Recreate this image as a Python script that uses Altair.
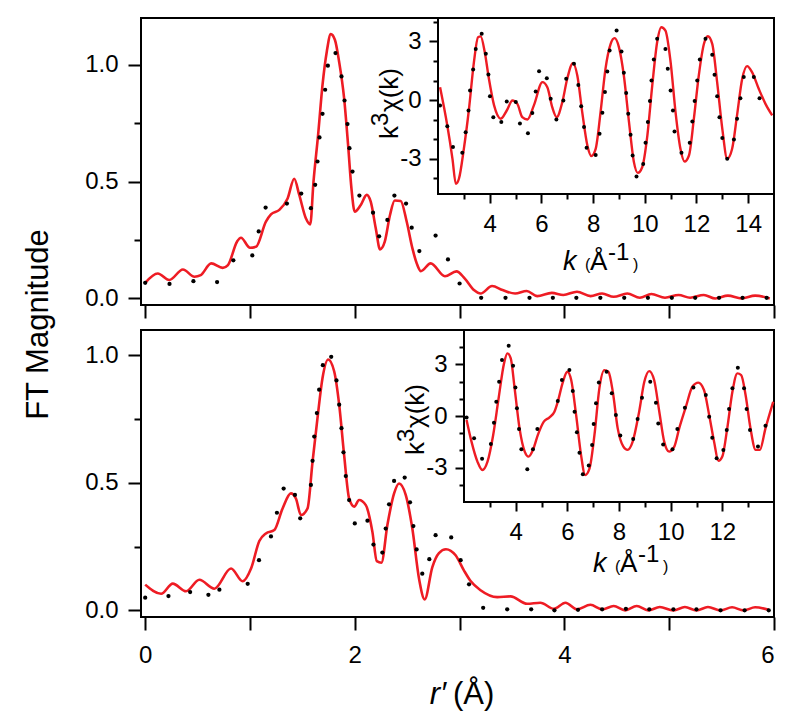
import altair as alt
import pandas as pd

FONT = "Liberation Sans, Arial, sans-serif"
RED = "#ee1c24"

# ---------------- top main panel (FT magnitude) ----------------
top_r = [0.0, 0.12, 0.23, 0.36, 0.47, 0.53, 0.63, 0.74, 0.79, 0.876, 0.914, 1.0, 1.057, 1.152, 1.2, 1.28,
         1.359, 1.422, 1.47, 1.533, 1.575, 1.606, 1.65, 1.692, 1.733, 1.771, 1.81, 1.85, 1.898, 1.936,
         1.968, 2.0, 2.057, 2.114, 2.152, 2.2, 2.241, 2.286, 2.336, 2.381, 2.438, 2.495, 2.55, 2.597,
         2.63, 2.724, 2.86, 2.97, 3.05, 3.14, 3.2, 3.31, 3.41, 3.53, 3.64, 3.74, 3.88, 3.99, 4.12, 4.25,
         4.36, 4.47, 4.6, 4.72, 4.83, 4.96, 5.09, 5.2, 5.33, 5.44, 5.56, 5.69, 5.82, 5.96]
top_ft = [0.067, 0.107, 0.079, 0.124, 0.093, 0.10, 0.15, 0.131, 0.143, 0.243, 0.26, 0.217, 0.221, 0.329, 0.36, 0.379,
          0.428, 0.512, 0.443, 0.343, 0.317, 0.5, 0.70, 0.914, 1.057, 1.131, 1.107, 1.014, 0.857, 0.657,
          0.471, 0.371, 0.40, 0.443, 0.414, 0.30, 0.21, 0.243, 0.357, 0.419, 0.417, 0.329, 0.214, 0.143,
          0.117, 0.15, 0.095, 0.116, 0.085, 0.035, 0.021, 0.053, 0.036, 0.021, 0.032, 0.010, 0.024, 0.015, 0.029, 0.010,
          0.021, 0.007, 0.021, 0.003, 0.019, 0.003, 0.015, 0.003, 0.015, 0.0, 0.012, 0.0, 0.012, 0.0]
top_dot_r = [0.0, 0.232, 0.46, 0.686, 0.841, 1.022, 1.083, 1.149, 1.352, 1.489, 1.581, 1.622, 1.644, 1.663,
             1.692, 1.717, 1.743, 1.816, 1.873, 1.902, 1.930, 1.949, 1.978, 2.044, 2.174, 2.232, 2.311,
             2.378, 2.489, 2.543, 2.616, 2.771, 2.889, 3.0, 3.206, 3.438, 3.667, 3.89, 4.114, 4.343,
             4.571, 4.797, 5.025, 5.248, 5.476, 5.70, 5.93]
top_dot_ft = [0.067, 0.062, 0.074, 0.070, 0.163, 0.184, 0.287, 0.389, 0.406, 0.449, 0.386, 0.486, 0.586, 0.689,
              0.790, 0.893, 0.996, 1.05, 0.95, 0.847, 0.746, 0.643, 0.543, 0.44, 0.367, 0.266, 0.336,
              0.44, 0.406, 0.303, 0.203, 0.269, 0.167, 0.064, 0.003, 0.003, 0.003, 0.003, 0.003, 0.003,
              0.003, 0.003, 0.003, 0.003, 0.003, 0.003, 0.003]

# ---------------- bottom main panel ----------------
bot_r = [0.0, 0.152, 0.263, 0.39, 0.517, 0.66, 0.819, 0.93, 1.01, 1.089, 1.152, 1.232, 1.311, 1.39, 1.438,
         1.486, 1.549, 1.597, 1.644, 1.692, 1.746, 1.803, 1.851, 1.898, 1.946, 1.994, 2.041, 2.105, 2.168,
         2.21, 2.254, 2.311, 2.375, 2.422, 2.486, 2.549, 2.613, 2.667, 2.74, 2.803, 2.87, 2.962, 3.041,
         3.105, 3.2, 3.359, 3.486, 3.645, 3.77, 3.9, 4.01, 4.12, 4.248, 4.36, 4.47, 4.58, 4.69, 4.8, 4.91,
         5.04, 5.15, 5.26, 5.37, 5.49, 5.6, 5.71, 5.82, 5.95]
bot_ft = [0.101, 0.065, 0.105, 0.075, 0.12, 0.085, 0.164, 0.114, 0.164, 0.272, 0.302, 0.315, 0.40, 0.459, 0.439,
          0.374, 0.40, 0.584, 0.754, 0.912, 0.984, 0.938, 0.807, 0.61, 0.439, 0.407, 0.433, 0.413, 0.308,
          0.193, 0.187, 0.335, 0.459, 0.498, 0.453, 0.321, 0.124, 0.043, 0.17, 0.225, 0.24, 0.216, 0.157,
          0.115, 0.079, 0.052, 0.055, 0.026, 0.030, 0.006, 0.030, 0.004, 0.022, 0.004, 0.017, 0.0, 0.017, 0.0, 0.013,
          0.0, 0.013, 0.0, 0.013, 0.0, 0.012, 0.0, 0.012, 0.002]
bot_dot_r = [0.0, 0.222, 0.429, 0.603, 0.708, 0.978, 1.086, 1.2, 1.257, 1.321, 1.429, 1.479, 1.581, 1.597,
             1.613, 1.638, 1.66, 1.695, 1.775, 1.825, 1.851, 1.873, 1.892, 1.914, 1.946, 2.0, 2.121, 2.178,
             2.263, 2.295, 2.327, 2.375, 2.476, 2.527, 2.559, 2.59, 2.644, 2.711, 2.771, 2.92, 3.01, 3.09,
             3.225, 3.454, 3.683, 3.905, 4.13, 4.36, 4.587, 4.81, 5.04, 5.26, 5.49, 5.72, 5.95]
bot_dot_ft = [0.05, 0.056, 0.072, 0.061, 0.081, 0.104, 0.197, 0.29, 0.383, 0.478, 0.453, 0.361, 0.492, 0.587,
              0.682, 0.774, 0.866, 0.962, 0.995, 0.902, 0.807, 0.715, 0.62, 0.527, 0.433, 0.341, 0.352, 0.258,
              0.227, 0.321, 0.416, 0.508, 0.521, 0.424, 0.331, 0.239, 0.144, 0.201, 0.295, 0.286, 0.197, 0.102,
              0.010, 0.004, 0.004, 0.0, 0.002, 0.004, 0.006, 0.004, 0.004, 0.004, 0.0, 0.0, 0.0]

# ---------------- top inset (k^3 chi(k)) ----------------
ti_k = [2.08, 2.36, 2.56, 2.69, 2.81, 3.0, 3.2, 3.39, 3.55, 3.65, 3.81, 3.97, 4.17, 4.43, 4.66, 4.88, 5.07,
        5.26, 5.46, 5.71, 6.04, 6.23, 6.42, 6.59, 6.81, 7.0, 7.22, 7.39, 7.58, 7.78, 7.93, 8.1, 8.29, 8.48,
        8.68, 8.83, 9.0, 9.19, 9.39, 9.58, 9.73, 9.90, 10.1, 10.29, 10.48, 10.64, 10.8, 11.0, 11.19, 11.38,
        11.54, 11.71, 11.9, 12.09, 12.29, 12.44, 12.61, 12.8, 13.0, 13.19, 13.38, 13.57, 13.77, 13.96,
        14.15, 14.41, 14.67, 14.93]
ti_chi = [0.66, -1.30, -3.0, -4.28, -4.02, -2.49, -0.44, 1.94, 3.22, 3.26, 2.45, 1.09, -0.27, -0.95, -0.53,
          -0.02, -0.19, -0.87, -0.99, -0.27, 0.92, 0.66, -0.36, -0.87, -0.10, 1.09, 1.89, 1.26, -0.61, -2.32,
          -2.86, -2.49, -0.61, 1.60, 2.88, 3.17, 2.71, 1.26, -1.12, -3.17, -3.72, -3.43, -1.81, 0.75, 2.97,
          3.73, 3.56, 1.94, -0.61, -2.49, -3.14, -2.83, -0.95, 1.26, 2.88, 3.27, 2.88, 0.92, -1.47, -3.0,
          -2.49, -0.78, 1.09, 1.74, 1.43, 0.58, -0.19, -0.78]
ti_dot_k = [2.08, 2.36, 2.58, 2.94, 3.07, 3.18, 3.24, 3.36, 3.46, 3.69, 3.85, 3.95, 4.01, 4.14, 4.45, 4.66,
            5.01, 5.17, 5.48, 5.65, 5.78, 5.91, 6.21, 6.36, 6.58, 6.85, 6.96, 7.26, 7.43, 7.54, 7.65, 7.75,
            8.10, 8.25, 8.36, 8.46, 8.55, 8.64, 8.91, 9.10, 9.19, 9.28, 9.36, 9.45, 9.53, 9.68, 9.94, 10.03,
            10.12, 10.20, 10.26, 10.35, 10.48, 10.80, 10.89, 11.0, 11.09, 11.15, 11.42, 11.74, 11.84, 11.93,
            12.03, 12.13, 12.35, 12.61, 12.70, 12.80, 12.89, 13.0, 13.19, 13.45, 13.57, 13.70, 13.83, 14.22,
            14.44]
ti_dot_chi = [-0.27, -1.33, -2.40, -2.69, -1.64, -0.53, 0.49, 1.57, 2.62, 3.39, 2.37, 1.31, 0.20, -0.87,
              -1.12, -0.07, -0.10, -1.19, -1.69, -0.66, 0.44, 1.48, 1.12, 0.07, -0.99, -0.02, 1.09, 1.86,
              0.78, -0.31, -1.38, -2.44, -2.80, -1.72, -0.65, 0.41, 1.47, 2.54, 3.56, 2.49, 1.40, 0.37,
              -0.70, -1.77, -2.83, -3.90, -3.26, -2.18, -1.12, -0.05, 1.01, 2.08, 3.14, 2.62, 1.60, 0.49,
              -0.53, -1.60, -2.69, -2.18, -1.09, -0.05, 1.01, 2.08, 3.14, 2.32, 1.30, 0.20, -0.87, -1.93,
              -3.0, -2.01, -0.95, 0.10, 1.18, 1.18, 0.10]

# ---------------- bottom inset ----------------
bi_k = [2.10, 2.29, 2.52, 2.71, 2.91, 3.13, 3.34, 3.55, 3.68, 3.81, 3.96, 4.15, 4.35, 4.50, 4.67, 4.86, 5.09,
        5.31, 5.50, 5.63, 5.83, 6.0, 6.15, 6.34, 6.53, 6.69, 6.86, 7.05, 7.24, 7.43, 7.59, 7.76, 7.95, 8.17,
        8.33, 8.53, 8.78, 8.98, 9.17, 9.36, 9.56, 9.75, 9.94, 10.14, 10.33, 10.59, 10.84, 11.07, 11.29,
        11.49, 11.68, 11.85, 12.0, 12.19, 12.39, 12.58, 12.73, 12.90, 13.09, 13.29, 13.45, 13.67, 13.97]
bi_chi = [-0.23, -1.49, -2.65, -3.14, -2.65, -1.10, 1.03, 3.06, 3.64, 3.35, 1.61, -0.72, -2.07, -2.36, -1.97,
          -1.10, -0.33, -0.08, 0.25, 0.83, 1.99, 2.57, 2.09, 0.06, -2.26, -3.43, -3.04, -1.10, 1.61, 2.67,
          2.57, 1.41, -0.72, -1.78, -1.97, -1.49, 0.25, 1.99, 2.61, 2.09, 0.25, -1.49, -2.07, -1.78, -0.72,
          0.54, 1.70, 1.94, 1.51, 0.06, -1.49, -2.61, -2.36, -0.72, 1.41, 2.48, 2.38, 1.22, -0.72, -1.97,
          -1.97, -0.72, 0.83]
bi_dot_k = [2.10, 2.39, 2.70, 3.04, 3.16, 3.25, 3.36, 3.47, 3.73, 3.90, 3.99, 4.05, 4.13, 4.22, 4.45, 4.67,
            4.84, 5.63, 5.79, 6.08, 6.21, 6.28, 6.37, 6.47, 6.60, 6.83, 6.96, 7.02, 7.11, 7.22, 7.52, 7.72,
            7.88, 8.05, 8.55, 8.72, 8.89, 9.21, 9.43, 9.52, 9.71, 10.07, 10.26, 10.55, 10.88, 11.36, 11.49,
            11.61, 11.78, 12.04, 12.17, 12.26, 12.39, 12.60, 12.84, 12.94, 13.07, 13.38, 13.67]
bi_dot_chi = [-0.08, -1.30, -2.48, -1.63, -0.39, 0.83, 1.99, 3.25, 4.08, 2.92, 1.66, 0.45, -0.75, -1.94,
              -3.10, -1.94, -0.75, 0.87, 2.09, 2.67, 1.45, 0.25, -0.95, -2.13, -3.39, -2.88, -1.68, -0.46,
              0.74, 1.95, 2.57, 1.32, 0.06, -1.14, -1.34, -0.17, 1.06, 1.99, 0.77, -0.43, -1.65, -1.94,
              -0.75, 0.48, 1.66, 1.22, -0.04, -1.26, -2.46, -1.97, -0.81, 0.41, 1.61, 2.81, 1.61, 0.41,
              -0.81, -1.78, -0.56]

W, H = 633, 287
ONE = pd.DataFrame({"d": [0]})


def txt(s, x, y, size, style="normal", align="left", angle=0):
    return alt.Chart(ONE).mark_text(
        text=s, font=FONT, fontSize=size, fontStyle=style, align=align,
        baseline="alphabetic", angle=angle, color="black"
    ).encode(x=alt.value(x), y=alt.value(y))


def main_panel(r, ft, dr, dft, ydom, show_labels, ytitle):
    line_df = pd.DataFrame({"r": r, "ft": ft})
    dot_df = pd.DataFrame({"r": dr, "ft": dft})
    xaxis = alt.Axis(values=[0, 1, 2, 3, 4, 5, 6], tickSize=13, labelPadding=13,
                     labels=show_labels, labelExpr="datum.value % 2 == 0 ? datum.label : ''",
                     domain=False)
    yaxis_kw = dict(values=[0, 0.25, 0.5, 0.75, 1.0], format=".1f",
                    labelExpr="datum.value * 4 % 2 == 0 ? datum.label : ''",
                    tickSize={"condition": {"test": "datum.value * 4 % 2 != 0", "value": 7}, "value": 13},
                    labelPadding=10, domain=False)
    if ytitle:
        yaxis = alt.Axis(titleFontSize=31, titleFontWeight="normal", titleFont=FONT,
                         titleX=-103, titleY=306, titleAngle=270, titleAlign="center",
                         titleBaseline="middle", titleColor="black", **yaxis_kw)
        ytit = "FT Magnitude"
    else:
        yaxis = alt.Axis(**yaxis_kw)
        ytit = None
    xs = alt.X("r:Q", scale=alt.Scale(domain=[-0.04, 6.0], nice=False, zero=False), axis=xaxis, title=None)
    ys = alt.Y("ft:Q", scale=alt.Scale(domain=ydom, nice=False, zero=False), axis=yaxis, title=ytit)
    line = alt.Chart(line_df).mark_line(color=RED, strokeWidth=2.6, interpolate="monotone").encode(x=xs, y=ys)
    dots = alt.Chart(dot_df).mark_circle(color="black", size=18, opacity=1).encode(x=xs, y=ys)
    return alt.layer(line, dots)


def inset(k, chi, dk, dchi, kdom, cdom, xrange, yrange, xticks, xoff, yoff, title_parts):
    line_df = pd.DataFrame({"k": k, "chi": chi})
    dot_df = pd.DataFrame({"k": dk, "chi": dchi})
    box_df = pd.DataFrame({"k1": [kdom[0]], "k2": [kdom[1]], "c1": [cdom[0]], "c2": [cdom[1]]})
    xaxis = alt.Axis(orient="bottom", offset=xoff, values=xticks,
                     labelExpr="datum.value % 2 == 0 ? datum.label : ''",
                     tickSize={"condition": {"test": "datum.value % 2 != 0", "value": 5}, "value": 9},
                     labelPadding=9, domain=False)
    yaxis = alt.Axis(orient="left", offset=yoff, values=[-4, -3, -2, -1, 0, 1, 2, 3, 4],
                     labelExpr="datum.value % 3 == 0 ? toString(datum.value) : ''",
                     tickSize={"condition": {"test": "datum.value % 3 != 0", "value": 5}, "value": 9},
                     labelPadding=8, domain=False)
    xsc = alt.Scale(domain=kdom, range=xrange, nice=False, zero=False)
    ysc = alt.Scale(domain=cdom, range=yrange, nice=False, zero=False)
    box = alt.Chart(box_df).mark_rect(fill="white", stroke="black", strokeWidth=2).encode(
        x=alt.X("k1:Q", scale=xsc, axis=xaxis, title=None),
        x2="k2:Q",
        y=alt.Y("c1:Q", scale=ysc, axis=yaxis, title=None),
        y2="c2:Q",
    )
    xs = alt.X("k:Q", scale=xsc, axis=xaxis, title=None)
    ys = alt.Y("chi:Q", scale=ysc, axis=yaxis, title=None)
    line = alt.Chart(line_df).mark_line(color=RED, strokeWidth=2.4, interpolate="monotone").encode(x=xs, y=ys)
    dots = alt.Chart(dot_df).mark_circle(color="black", size=16, opacity=1).encode(x=xs, y=ys)
    return alt.layer(box, line, dots, *title_parts)


def inset_titles(xl, base_y, yx, ystart):
    return [
        txt("k", xl, base_y, 27, style="italic"),
        txt("(", xl + 22, base_y, 16),
        txt("Å", xl + 27, base_y, 26),
        txt("-1", xl + 45, base_y - 10, 24),
        txt(")", xl + 70, base_y, 16),
        txt("k", yx, ystart, 26, angle=270),
        txt("3", yx - 10, ystart - 13, 24, angle=270),
        txt("χ(k)", yx, ystart - 27, 26, angle=270),
    ]


top_inset = inset(ti_k, ti_chi, ti_dot_k, ti_dot_chi, [2, 15], [-4.8, 4.2], [297, 633], [176, 0],
                  list(range(3, 15)), -111, -297, inset_titles(422, 252, 257, 121))
bot_inset = inset(bi_k, bi_chi, bi_dot_k, bi_dot_chi, [2, 14], [-5, 5], [323, 633], [172, 0],
                  list(range(3, 14)), -115, -323, inset_titles(452, 242, 283, 125))

top_main = main_panel(top_r, top_ft, top_dot_r, top_dot_ft, [-0.028, 1.2], False, True)
bot_main = main_panel(bot_r, bot_ft, bot_dot_r, bot_dot_ft, [-0.026, 1.10], True, False)
bot_main = alt.layer(bot_main, txt("r′", 305, 374, 31, style="italic", align="right"),
                     txt("(Å)", 312, 374, 31))

top = alt.layer(top_main, top_inset).resolve_scale(x="independent", y="independent").properties(width=W, height=H)
bot = alt.layer(bot_main, bot_inset).resolve_scale(x="independent", y="independent").properties(width=W, height=H)

chart = alt.vconcat(top, bot, spacing=25, bounds="flush").properties(
    padding={"left": 13, "top": 8, "right": 5, "bottom": 5}
).configure_view(stroke="black", strokeWidth=2).configure_axis(
    grid=False, tickColor="black", tickWidth=2, labelFont=FONT, labelFontSize=24,
    labelColor="black", domainColor="black"
)

chart.save("out.html", embed_options={"renderer": "svg", "actions": False})
